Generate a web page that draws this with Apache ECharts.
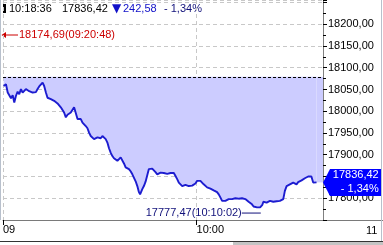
<!DOCTYPE html>
<html><head><meta charset="utf-8">
<script src="https://cdn.jsdelivr.net/npm/echarts@6/dist/echarts.min.js"></script>
<style>html,body{margin:0;padding:0;background:#fff}#c{width:383px;height:245px}</style>
</head><body><div id="c"></div>
<script>
// minutes after 09:00
const minutes = [30.1,30.46,30.73,30.97,31.24,31.5,31.75,32.0,32.27,32.52,32.78,33.04,33.29,33.55,33.82,34.06,34.33,34.59,34.84,35.1,35.36,35.61,35.87,36.14,36.38,36.65,36.9,37.42,37.93,38.45,38.96,39.47,39.74,40.0,40.25,40.51,40.77,41.02,41.28,41.55,41.79,42.06,42.32,42.57,42.83,43.09,43.34,43.6,43.86,44.11,44.37,44.64,44.88,45.15,45.41,45.66,45.92,46.18,46.43,46.69,46.95,47.2,47.46,47.73,47.97,48.24,48.5,48.75,49.01,49.28,49.52,49.78,50.05,50.3,50.56,50.82,51.07,51.25,51.41,51.59,51.84,52.1,52.36,52.61,52.87,53.13,53.38,53.64,53.91,54.15,54.42,54.68,54.93,55.19,55.46,55.71,55.97,56.23,56.48,56.74,57.0,57.25,57.51,57.78,58.02,58.28,58.55,58.8,59.06,59.32,59.57,59.83,60.09,60.34,60.6,60.87,61.11,61.37,61.64,61.89,62.15,62.41,62.66,62.92,63.18,63.44,63.69,63.96,64.21,64.47,64.73,64.98,65.24,65.5,65.75,66.01,66.27,66.52,66.79,67.05,67.3,67.56,67.82,68.07,68.33,68.59,68.84,69.1,69.37,69.61,69.85,70.03,70.2,70.36,70.6,70.86,71.1,71.38,71.64,71.89,72.15,72.41,72.66,72.92,73.18,73.44,73.69,73.96,74.2,74.47,74.73,74.98,75.24,75.5,75.75,76.01,76.28,76.53,76.79,77.05,77.3,77.56,77.8,77.95,78.08,78.34,78.6];
const prices = [18058,18062,18043,18039,18030,18037,18020,18035,18045,18039,18051,18043,18047,18051,18054,18046,18048,18043,18039,18044,18051,18057,18060,18066,18058,18043,18031,18028,18024,18018,18009,17997,17986,17992,17993,17997,18001,18009,17996,17982,17984,17982,17974,17972,17966,17961,17951,17943,17940,17936,17938,17940,17936,17938,17943,17941,17936,17928,17915,17905,17897,17892,17890,17886,17888,17894,17890,17880,17871,17869,17867,17862,17855,17851,17839,17828,17814,17809,17812,17821,17828,17838,17853,17867,17871,17868,17866,17860,17855,17858,17859,17862,17858,17855,17856,17855,17858,17859,17858,17851,17844,17836,17834,17828,17830,17831,17829,17828,17830,17829,17832,17834,17840,17841,17840,17836,17832,17829,17825,17823,17822,17821,17818,17817,17814,17809,17802,17794,17794,17794,17796,17798,17797,17798,17798,17800,17802,17799,17798,17800,17802,17798,17794,17792,17790,17786,17781,17779,17779,17780,17779,17777.47,17785,17792,17791,17790,17792,17794,17793,17792,17791,17793,17794,17794,17795,17798,17817,17828,17830,17832,17834,17836,17834,17832,17837,17840,17841,17844,17846,17848,17850,17851,17850,17846,17836,17834,17836.42];
const prevClose = 18079.00;
const lastTime = '10:18:36';
const highPrice = 18174.69, highTime = '09:20:48';
const lowPrice = 17777.47, lowTime = '10:10:02';
const yLabelValues = [17800,17850,17900,17950,18000,18050,18100,18150,18200];
const xTickValues = [30, 60];
const xTickLabels = ['09', '10:00'];
const cornerLabel = '11';

const xMin = 30, xMax = 79.6, yMin = 17750, yMax = 18255.7;
const fmt = v => v.toFixed(2).replace('.', ',');
const lastPrice = prices[prices.length - 1];
const lastMinute = minutes[minutes.length - 1];
const change = prevClose - lastPrice;
const pct = change / prevClose * 100;
const pctText = '- ' + fmt(pct) + '%';
const toMin = t => { const p = t.split(':').map(Number); return (p[0] - 9) * 60 + p[1] + (p[2] || 0) / 60; };
const FONT = '"Liberation Sans", Arial, sans-serif';
const data = minutes.map((m, i) => [m, prices[i]]);

const chart = echarts.init(document.getElementById('c'), null, {renderer: 'canvas'});
chart.setOption({
  animation: false,
  backgroundColor: '#fff',
  textStyle: {fontFamily: FONT},
  grid: {left: 2, right: 60, top: 0, bottom: 25, containLabel: false},
  xAxis: {
    type: 'value', min: xMin, max: xMax,
    axisLine: {show: true, lineStyle: {color: '#7a7a7a', width: 1}},
    axisTick: {show: true, customValues: xTickValues, length: 5, inside: false, lineStyle: {color: '#000'}},
    axisLabel: {show: true, customValues: xTickValues, align: 'left', margin: 4, fontSize: 11, color: '#000', fontFamily: FONT,
      formatter: v => { const i = xTickValues.indexOf(v); return i >= 0 ? xTickLabels[i] : ''; }},
    splitLine: {show: true, lineStyle: {color: '#c8c8c8', type: [4, 3], width: 1}}
  },
  yAxis: {
    type: 'value', position: 'right', min: yMin, max: yMax, interval: 50,
    axisLine: {show: true, lineStyle: {color: '#808080', width: 1}},
    axisTick: {show: true, length: 4, lineStyle: {color: '#000'}},
    minorTick: {show: true, splitNumber: 2, length: 3, lineStyle: {color: '#000'}},
    axisLabel: {margin: 5, fontSize: 11, color: '#000', fontFamily: FONT,
      formatter: v => yLabelValues.indexOf(Math.round(v * 100) / 100) >= 0 ? fmt(v) : ''},
    splitLine: {show: true, lineStyle: {color: '#c8c8c8', type: [4, 3], width: 1}}
  },
  series: [
    {
      type: 'line', data: [[lastMinute, lastPrice], [xMax, lastPrice]],
      symbol: 'none', silent: true, lineStyle: {width: 0, opacity: 0},
      areaStyle: {color: '#ccccff', opacity: 1, origin: prevClose}, z: 1
    },
    {
      type: 'line', data: data, symbol: 'none', smooth: false,
      lineStyle: {color: '#1c1cd0', width: 1.9},
      areaStyle: {color: '#ccccff', opacity: 1, origin: prevClose},
      z: 3,
      markLine: {
        silent: true, symbol: ['none', 'none'], animation: false,
        lineStyle: {color: '#000', type: [3, 2], width: 1},
        label: {show: false},
        data: [{yAxis: prevClose}]
      },
      markPoint: {
        silent: true, animation: false,
        data: [
          {
            coord: [xMax, lastPrice],
            symbol: 'path://M0,13.5 L7,0 L58,0 L58,27 L7,27 Z',
            symbolKeepAspect: false,
            symbolSize: [58, 27], symbolOffset: [29, 0],
            itemStyle: {color: '#0000ff'},
            label: {show: true, position: ['96%', '50%'], align: 'right', verticalAlign: 'middle',
              color: '#fff', fontSize: 11, lineHeight: 14, fontFamily: FONT,
              formatter: fmt(lastPrice) + '\n' + pctText}
          },
          {
            coord: [toMin(lowTime), lowPrice],
            symbol: 'circle', symbolSize: 1, itemStyle: {color: 'rgba(0,0,0,0)'},
            label: {show: true, position: 'left', distance: 0, offset: [0, 5],
              formatter: '{t|' + fmt(lowPrice) + '(' + lowTime + ')}{a|}',
              rich: {
                t: {color: '#10107a', fontSize: 11, fontFamily: FONT, verticalAlign: 'middle'},
                a: {width: 19, height: 1, backgroundColor: '#10107a', verticalAlign: 'middle'}
              }}
          }
        ]
      }
    }
  ],
  graphic: [
    {type: 'rect', shape: {x: 3, y: 4, width: 3, height: 9}, style: {fill: '#000'}},
    {type: 'text', x: 9, y: 8.5, style: {text: lastTime, font: '11px ' + FONT, fill: '#000', verticalAlign: 'middle'}},
    {type: 'text', x: 62, y: 8.5, style: {text: fmt(lastPrice), font: '11px ' + FONT, fill: '#000', verticalAlign: 'middle'}},
    {type: 'text', x: 112, y: 8.5, style: {text: '▼', font: '12px "DejaVu Sans", sans-serif', fill: '#1010c8', verticalAlign: 'middle'}},
    {type: 'text', x: 123, y: 8.5, style: {text: fmt(change), font: '11px ' + FONT, fill: '#1010c8', verticalAlign: 'middle'}},
    {type: 'text', x: 164, y: 8.5, style: {text: pctText, font: '11px ' + FONT, fill: '#10107a', verticalAlign: 'middle'}},
    {type: 'polygon', shape: {points: [[1.5, 35], [6, 32], [6, 38]]}, style: {fill: '#cc0000'}},
    {type: 'line', shape: {x1: 5, y1: 35, x2: 18, y2: 35}, style: {stroke: '#cc0000', lineWidth: 1}},
    {type: 'text', x: 19, y: 35, style: {text: fmt(highPrice) + '(' + highTime + ')', font: '11px ' + FONT, fill: '#cc0000', verticalAlign: 'middle'}},
    {type: 'text', x: 366, y: 231, style: {text: cornerLabel, font: '11px ' + FONT, fill: '#000', verticalAlign: 'middle'}},
    {type: 'line', shape: {x1: 323, y1: 220.5, x2: 383, y2: 220.5}, style: {stroke: '#7a7a7a', lineWidth: 1}},
    {type: 'line', shape: {x1: 0.5, y1: 0, x2: 0.5, y2: 220}, style: {stroke: '#b8c0cc', lineWidth: 1}},
    {type: 'line', shape: {x1: 381.5, y1: 0, x2: 381.5, y2: 242}, style: {stroke: '#b8c0cc', lineWidth: 1}},
    {type: 'line', shape: {x1: 0, y1: 241.5, x2: 383, y2: 241.5}, style: {stroke: '#333', lineWidth: 1}},
    {type: 'rect', shape: {x: 233, y: 242, width: 150, height: 3}, style: {fill: '#c4c4c4'}}
  ]
});
</script>
</body></html>
